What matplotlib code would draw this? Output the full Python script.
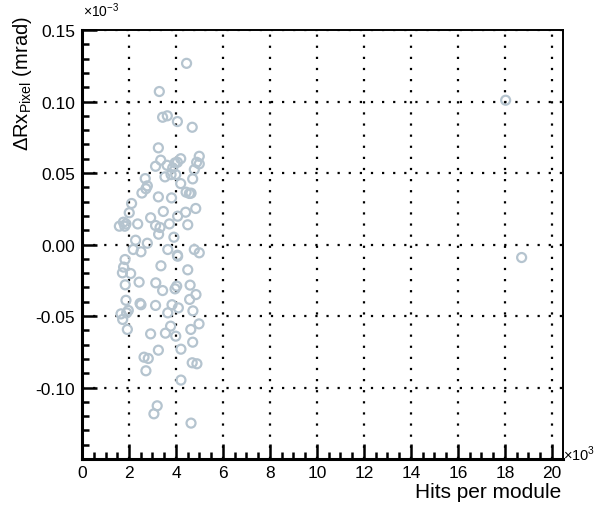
import matplotlib
matplotlib.use('Agg')
import matplotlib.pyplot as plt
import numpy as np
from matplotlib.ticker import MultipleLocator

plt.rcParams['font.family'] = ['Liberation Sans', 'DejaVu Sans']
plt.rcParams['mathtext.fontset'] = 'custom'
plt.rcParams['mathtext.rm'] = 'Liberation Sans'

# hits per module (x10^3) and delta Rx (x10^-3 mrad)
hits = [4.45, 3.29, 3.43, 3.63, 4.06, 4.69, 3.25, 3.35, 3.13, 3.62,
        3.96, 4.20, 4.06, 3.86, 4.99, 4.88, 4.99, 4.78, 3.53, 3.79,
        3.99, 2.69, 4.20, 4.71, 2.78, 2.72, 2.55, 4.43, 4.57, 4.64,
        3.25, 3.81, 2.11, 3.46, 4.84, 4.41, 2.01, 2.92, 1.76, 1.87,
        1.59, 1.82, 2.37, 3.13, 3.32, 3.72, 4.07, 4.50, 3.26, 3.91,
        2.28, 2.78, 2.18, 2.51, 3.65, 4.06, 4.07, 4.78, 4.99, 1.83,
        1.77, 3.36, 4.50, 1.72, 2.07, 2.43, 3.14, 1.84, 3.43, 3.96,
        4.03, 4.60, 4.85, 4.58, 1.87, 2.47, 2.51, 3.13, 3.83, 4.10,
        1.97, 3.65, 4.72, 1.66, 1.90, 1.73, 3.77, 4.98, 1.93, 4.63,
        2.92, 3.55, 3.99, 4.71, 3.25, 4.21, 2.64, 2.82, 4.69, 4.89,
        2.72, 4.21, 3.20, 3.06, 4.64, 18.03, 18.71]
delta_rx = [0.1267, 0.107, 0.089, 0.090, 0.086, 0.082, 0.0676, 0.059, 0.0547, 0.0554,
            0.0571, 0.060, 0.0575, 0.0536, 0.0617, 0.0575, 0.0564, 0.0524, 0.0473, 0.0489,
            0.0489, 0.0461, 0.0426, 0.0459, 0.041, 0.039, 0.036, 0.0366, 0.0357, 0.0359,
            0.0333, 0.0326, 0.0287, 0.0231, 0.0252, 0.0226, 0.0222, 0.0187, 0.0156, 0.0144,
            0.0128, 0.0128, 0.0144, 0.0133, 0.0119, 0.0144, 0.0198, 0.0138, 0.0072, 0.0051,
            0.0030, 0.0009, -0.0035, -0.0051, -0.0035, -0.0075, -0.0082, -0.0035, -0.0058, -0.0105,
            -0.0158, -0.0149, -0.0177, -0.0198, -0.0203, -0.0263, -0.0268, -0.0282, -0.0322, -0.031,
            -0.0291, -0.0284, -0.035, -0.0384, -0.039, -0.0412, -0.0421, -0.0426, -0.0421, -0.0443,
            -0.0461, -0.0478, -0.0464, -0.0485, -0.0478, -0.0524, -0.0571, -0.0555, -0.0594, -0.0594,
            -0.0625, -0.062, -0.0641, -0.0683, -0.0739, -0.0732, -0.0788, -0.0797, -0.0827, -0.0834,
            -0.0883, -0.0948, -0.1128, -0.1184, -0.1249, 0.1009, -0.0091]

fig = plt.figure(figsize=(5.96, 5.06), dpi=100)
ax = fig.add_axes([0.1376, 0.0909, 0.8070, 0.8478])

ax.scatter(hits, delta_rx, s=42, facecolors='none', edgecolors='#b5c4cf',
           linewidths=1.6, zorder=3)

ax.set_xlim(0, 20.47)
ax.set_ylim(-0.15, 0.15)
ax.set_xticks(np.arange(0, 21, 2))
ax.set_yticks([-0.10, -0.05, 0.00, 0.05, 0.10, 0.15])
ax.set_yticklabels(['-0.10', '-0.05', '0.00', '0.05', '0.10', '0.15'])
ax.xaxis.set_minor_locator(MultipleLocator(0.5))
ax.yaxis.set_minor_locator(MultipleLocator(0.01))

ax.grid(True, which='major', color='black', linestyle=(0, (1, 4)), linewidth=1.6)
ax.set_axisbelow(True)

ax.tick_params(which='both', direction='in', top=False, right=False,
               labelsize=12.5, width=1.8)
ax.tick_params(axis='x', pad=4)
ax.tick_params(axis='y', pad=5)
ax.tick_params(which='major', length=11)
ax.tick_params(which='minor', length=5)

for s in ['left', 'bottom']:
    ax.spines[s].set_linewidth(2.2)
for s in ['top', 'right']:
    ax.spines[s].set_linewidth(1.4)

# exponent markers
fig.text(0.139, 0.960, r'$\times$10$^{-3}$', fontsize=10, ha='left', va='bottom')
fig.text(0.945, 0.102, r'$\times$10$^{3}$', fontsize=10.5, ha='left', va='center')

# axis titles
fig.text(0.942, 0.008, 'Hits per module', fontsize=15, ha='right', va='bottom')
fig.text(0.038, 0.968, r'ΔRx$_{\mathrm{Pixel}}$ (mrad)', fontsize=14.5,
         rotation=90, ha='center', va='top')

plt.savefig('out.png', dpi=100)
